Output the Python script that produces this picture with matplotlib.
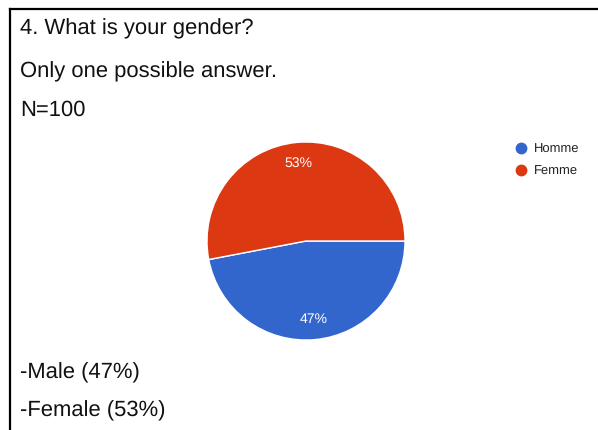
import matplotlib
matplotlib.use("Agg")
import matplotlib.pyplot as plt
from matplotlib.lines import Line2D

plt.rcParams['font.family'] = ['Liberation Sans', 'DejaVu Sans']
plt.rcParams['text.hinting'] = 'no_hinting'
plt.rcParams['text.hinting_factor'] = 1

labels = ['Homme', 'Femme']
shares = [47, 53]
colors = ['#3366cc', '#dc3912']
question = "4. What is your gender?"
subtitle = "Only one possible answer."
n_text = "N=100"
summary = ["-Male (47%)", "-Female (53%)"]

W, H = 598, 430
fig = plt.figure(figsize=(W / 100, H / 100), dpi=100)

def fx(px):
    return px / W

def fy(py):
    return 1 - py / H

# frame around the question block (left and top edges only)
fig.add_artist(Line2D([fx(10), fx(10)], [fy(9), 0], color='black', lw=1.6))
fig.add_artist(Line2D([fx(10), 1], [fy(9), fy(9)], color='black', lw=1.6))

txt = dict(fontsize=15.5, color='#111111', va='center', ha='left')
fig.text(fx(20), fy(29), question, **txt)
fig.text(fx(20), fy(72), subtitle, **txt)
fig.text(fx(20), fy(110), n_text, **txt)
fig.text(fx(20), fy(373), summary[0], **txt)
fig.text(fx(20), fy(411), summary[1], **txt)

# pie: centre (306, 241) px, radius 100 px
ax = fig.add_axes([fx(206), fy(341), 200 / W, 200 / H])
wedges, texts, autotexts = ax.pie(
    shares, colors=colors, startangle=0, counterclock=False,
    autopct=lambda p: '{:.0f}%'.format(p), pctdistance=0.79,
    wedgeprops=dict(edgecolor='white', linewidth=1.0),
    textprops=dict(color='white', fontsize=10))
ax.set_xlim(-1.01, 1.01)
ax.set_ylim(-1.01, 1.01)
ax.set_aspect('auto')
ax.axis('off')

handles = [Line2D([], [], marker='o', linestyle='none', markersize=7.5,
                  markerfacecolor=c, markeredgecolor=c) for c in colors]
fig.legend(handles, labels, loc='upper left',
           bbox_to_anchor=(fx(509), fy(137)), frameon=False,
           fontsize=9.5, handlelength=0.8, handletextpad=0.6,
           labelspacing=0.75, labelcolor='#222222', borderpad=0)

fig.savefig('out.png', dpi=100, facecolor='white')
